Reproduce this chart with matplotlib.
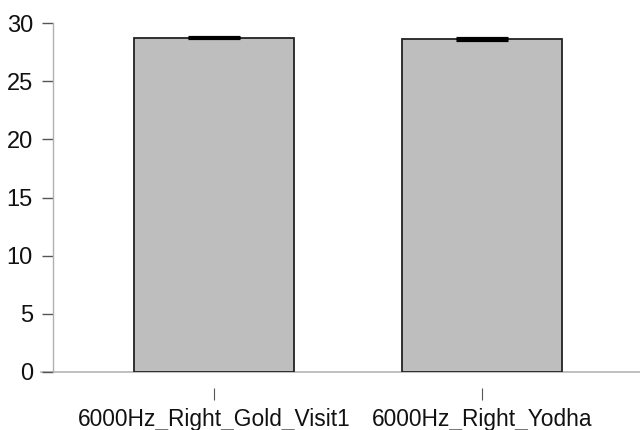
import matplotlib.pyplot as plt

# data
groups = ["6000Hz_Right_Gold_Visit1", "6000Hz_Right_Yodha"]
means = [28.75, 28.6]
errors = [0.07, 0.07]

plt.rcParams["font.family"] = ["Liberation Sans", "DejaVu Sans"]

fig = plt.figure(figsize=(6.4, 4.3), dpi=100)
ax = fig.add_axes([53 / 640, 1 - 372 / 430, 587 / 640, 349 / 430])

pos = list(range(len(groups)))
ax.bar(pos, means, width=0.6, color="#bebebe", edgecolor="#222222",
       linewidth=1.3, zorder=2)
ax.errorbar(pos, means, yerr=errors, fmt="none", ecolor="black",
            elinewidth=1.5, capsize=19, capthick=2.3, zorder=3)

ax.set_xlim(-0.601, 1.59)
ax.set_ylim(0, 30)
ax.set_yticks(range(0, 31, 5))
ax.set_xticks(pos)
ax.set_xticklabels(groups)

# baseline across the full width
ax.plot([-0.645, 1.59], [0, 0], color="#b5b5b5", linewidth=1.2,
        clip_on=False, zorder=1)

for s in ["top", "right"]:
    ax.spines[s].set_visible(False)
ax.spines["bottom"].set_visible(False)
ax.spines["bottom"].set_position(("outward", 11.5))
ax.spines["left"].set_color("#b0b0b0")
ax.spines["left"].set_linewidth(1.0)

ax.tick_params(axis="y", length=8, width=1, color="#555555",
               pad=6.5, labelsize=17, labelcolor="#111111")
ax.tick_params(axis="x", length=8.6, width=0.8, color="#555555",
               pad=6, labelsize=16.4, labelcolor="#111111")

fig.savefig("out.png", dpi=100)
